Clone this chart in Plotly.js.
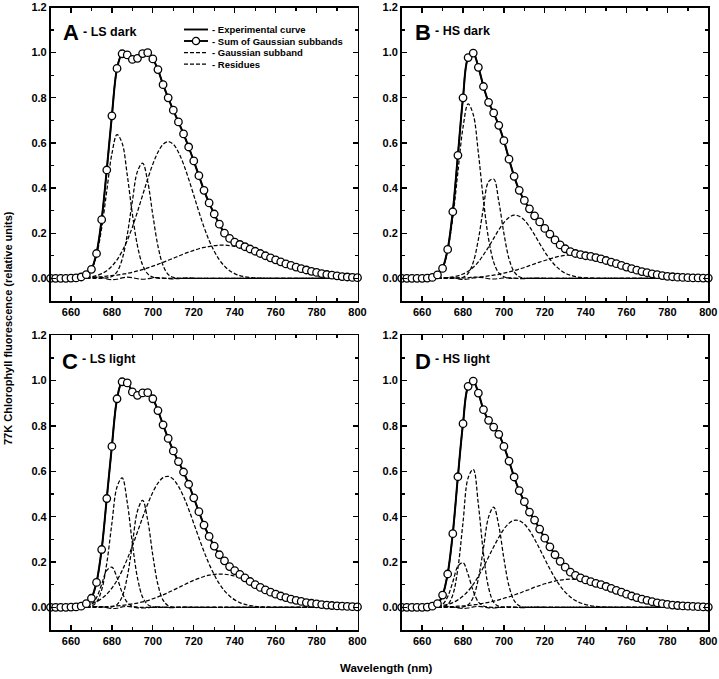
<!DOCTYPE html>
<html>
<head>
<meta charset="utf-8">
<script src="https://cdn.plot.ly/plotly-3.0.1.min.js"></script>
<style>html,body{margin:0;padding:0;background:#fff;}#chart{width:719px;height:679px;}</style>
</head>
<body>
<div id="chart"></div>
<script>
// ---------- data (wavelength grid, nm) ----------
const wl = [650,652.5,655,657.5,660,662.5,665,667.5,670,672.5,
675,677.5,680,682.5,685,687.5,690,692.5,695,697.5,
700,702.5,705,707.5,710,712.5,715,717.5,720,722.5,
725,727.5,730,732.5,735,737.5,740,742.5,745,747.5,
750,752.5,755,757.5,760,762.5,765,767.5,770,772.5,
775,777.5,780,782.5,785,787.5,790,792.5,795,797.5,
800];

const xTicks = [660,680,700,720,740,760,780,800];
const yTicks = [0,0.2,0.4,0.6,0.8,1.0,1.2];
const panelLetters = ["A","B","C","D"];
const panelNames = ["- LS dark","- HS dark","- LS light","- HS light"];
const legendNames = ["- Experimental curve","- Sum of Gaussian subbands","- Gaussian subband","- Residues"];

// ----- Panel A : LS dark -----
const sumA = [0,0,0,0,0.001,0.002,0.006,0.016,0.04,0.11,
0.26,0.48,0.72,0.93,0.995,0.99,0.97,0.975,0.996,1.0,
0.972,0.925,0.858,0.8,0.745,0.693,0.64,0.582,0.52,0.455,
0.39,0.334,0.285,0.24,0.2,0.177,0.16,0.15,0.14,0.13,
0.12,0.11,0.1,0.091,0.082,0.073,0.064,0.057,0.05,0.043,
0.037,0.031,0.026,0.021,0.017,0.014,0.011,0.008,0.006,0.004,
0.003];
const expA = [0,0,0,0,0.001,0.002,0.005,0.015,0.04,0.112,
0.262,0.482,0.722,0.928,0.994,0.99,0.968,0.976,0.995,0.999,
0.972,0.924,0.858,0.8,0.744,0.693,0.64,0.582,0.52,0.455,
0.39,0.334,0.285,0.24,0.2,0.177,0.16,0.15,0.14,0.13,
0.12,0.11,0.1,0.091,0.082,0.073,0.064,0.057,0.05,0.043,
0.037,0.031,0.026,0.021,0.017,0.014,0.011,0.008,0.006,0.004,
0.003];
const g1A = [0,0,0,0,0,0.001,0.003,0.012,0.039,0.104,
0.222,0.388,0.552,0.637,0.599,0.458,0.285,0.144,0.059,0.02,
0.005,0.001,0,0,0,0,0,0,0,0,
0,0,0,0,0,0,0,0,0,0,
0,0,0,0,0,0,0,0,0,0,
0,0,0,0,0,0,0,0,0,0,
0];
const g2A = [0,0,0,0,0,0,0,0,0,0,
0,0.002,0.008,0.029,0.084,0.193,0.342,0.474,0.51,0.429,
0.28,0.143,0.057,0.017,0.004,0.001,0,0,0,0,
0,0,0,0,0,0,0,0,0,0,
0,0,0,0,0,0,0,0,0,0,
0,0,0,0,0,0,0,0,0,0,
0];
const g3A = [0,0,0,0,0,0,0.002,0.004,0.007,0.012,
0.021,0.034,0.054,0.082,0.12,0.168,0.227,0.295,0.368,0.44,
0.506,0.559,0.594,0.606,0.594,0.559,0.506,0.44,0.368,0.295,
0.227,0.168,0.12,0.082,0.054,0.034,0.021,0.012,0.007,0.004,
0.002,0.001,0,0,0,0,0,0,0,0,
0,0,0,0,0,0,0,0,0,0,
0];
const g4A = [0,0,0.001,0.001,0.001,0.002,0.002,0.003,0.004,0.006,
0.007,0.01,0.012,0.014,0.018,0.022,0.027,0.033,0.039,0.046,
0.054,0.062,0.071,0.08,0.089,0.098,0.108,0.116,0.124,0.131,
0.137,0.141,0.145,0.147,0.147,0.145,0.142,0.138,0.132,0.126,
0.118,0.109,0.1,0.091,0.082,0.073,0.064,0.056,0.048,0.04,
0.035,0.029,0.023,0.019,0.015,0.012,0.01,0.008,0.006,0.005,
0.003];
const resA = [0,0,0,0,0,0,0.001,0.002,0.003,0.004,
0.004,-0.003,-0.006,-0.004,0.002,0.005,0.003,-0.002,-0.004,-0.002,
0.002,0.003,0.001,-0.001,-0.002,-0.001,0.001,0.002,0.001,0,
0,0,0,0,0,0,0,0,0,0,
0,0,0,0,0,0,0,0,0,0,
0,0,0,0,0,0,0,0,0,0,
0];

// ----- Panel B : HS dark -----
const sumB = [0,0,0,0,0,0.001,0.004,0.015,0.044,0.128,
0.295,0.545,0.8,0.978,0.998,0.935,0.85,0.78,0.733,0.678,
0.61,0.528,0.452,0.39,0.345,0.308,0.277,0.25,0.221,0.196,
0.17,0.148,0.131,0.118,0.11,0.105,0.1,0.097,0.092,0.086,
0.079,0.072,0.065,0.057,0.05,0.043,0.036,0.03,0.025,0.02,
0.016,0.012,0.009,0.007,0.005,0.004,0.003,0.002,0.002,0.001,
0.001];
const expB = [0,0,0,0,0,0.001,0.004,0.014,0.045,0.13,
0.297,0.547,0.801,0.977,0.997,0.936,0.851,0.78,0.732,0.677,
0.61,0.528,0.452,0.39,0.345,0.308,0.277,0.25,0.221,0.196,
0.17,0.148,0.131,0.118,0.11,0.105,0.1,0.097,0.092,0.086,
0.079,0.072,0.065,0.057,0.05,0.043,0.036,0.03,0.025,0.02,
0.016,0.012,0.009,0.007,0.005,0.004,0.003,0.002,0.002,0.001,
0.001];
const g1B = [0,0,0,0,0,0.001,0.004,0.015,0.047,0.126,
0.269,0.471,0.669,0.773,0.726,0.556,0.345,0.175,0.072,0.024,
0.007,0.001,0,0,0,0,0,0,0,0,
0,0,0,0,0,0,0,0,0,0,
0,0,0,0,0,0,0,0,0,0,
0,0,0,0,0,0,0,0,0,0,
0];
const g2B = [0,0,0,0,0,0,0,0,0,0,
0,0.001,0.005,0.022,0.071,0.172,0.313,0.428,0.44,0.341,
0.199,0.087,0.029,0.007,0.001,0,0,0,0,0,
0,0,0,0,0,0,0,0,0,0,
0,0,0,0,0,0,0,0,0,0,
0,0,0,0,0,0,0,0,0,0,
0];
const g3B = [0,0,0,0,0,0,0,0,0.002,0.003,
0.006,0.011,0.019,0.031,0.049,0.073,0.104,0.139,0.177,0.215,
0.247,0.27,0.28,0.275,0.258,0.229,0.193,0.154,0.117,0.085,
0.058,0.038,0.023,0.014,0.008,0.004,0.002,0.001,0,0,
0,0,0,0,0,0,0,0,0,0,
0,0,0,0,0,0,0,0,0,0,
0];
const g4B = [0,0,0,0,0,0,0,0,0.001,0.001,
0.001,0.002,0.002,0.003,0.005,0.006,0.008,0.011,0.014,0.018,
0.023,0.028,0.034,0.041,0.048,0.056,0.064,0.072,0.079,0.086,
0.093,0.098,0.102,0.104,0.105,0.104,0.102,0.098,0.093,0.086,
0.079,0.072,0.064,0.056,0.048,0.041,0.034,0.028,0.023,0.018,
0.014,0.011,0.008,0.006,0.005,0.003,0.002,0.002,0.001,0.001,
0.001];
const resB = [0,0,0,0,0,0,0.001,0.002,0.002,0.003,
0.003,-0.002,-0.005,-0.003,0.002,0.004,0.003,-0.002,-0.003,-0.001,
0.002,0.002,0.001,-0.001,-0.001,0,0.001,0.001,0,0,
0,0,0,0,0,0,0,0,0,0,
0,0,0,0,0,0,0,0,0,0,
0,0,0,0,0,0,0,0,0,0,
0];

// ----- Panel C : LS light -----
const sumC = [0,0,0,0,0.001,0.002,0.005,0.016,0.04,0.11,
0.255,0.48,0.71,0.92,0.995,0.99,0.95,0.935,0.946,0.947,
0.92,0.868,0.805,0.745,0.69,0.643,0.597,0.543,0.483,0.422,
0.363,0.313,0.27,0.232,0.205,0.18,0.162,0.145,0.13,0.114,
0.1,0.088,0.077,0.067,0.058,0.05,0.043,0.036,0.031,0.026,
0.021,0.018,0.015,0.012,0.01,0.008,0.006,0.005,0.004,0.003,
0.002];
const expC = [0,0,0,0,0.001,0.002,0.005,0.015,0.041,0.112,
0.257,0.482,0.712,0.918,0.994,0.99,0.951,0.934,0.945,0.946,
0.92,0.868,0.805,0.745,0.69,0.643,0.597,0.543,0.483,0.422,
0.363,0.313,0.27,0.232,0.205,0.18,0.162,0.145,0.13,0.114,
0.1,0.088,0.077,0.067,0.058,0.05,0.043,0.036,0.031,0.026,
0.021,0.018,0.015,0.012,0.01,0.008,0.006,0.005,0.004,0.003,
0.002];
const g0C = [0,0,0,0,0,0,0,0.002,0.012,0.043,
0.101,0.163,0.177,0.131,0.065,0.022,0.005,0.001,0,0,
0,0,0,0,0,0,0,0,0,0,
0,0,0,0,0,0,0,0,0,0,
0,0,0,0,0,0,0,0,0,0,
0,0,0,0,0,0,0,0,0,0,
0];
const g1C = [0,0,0,0,0,0,0,0.001,0.005,0.023,
0.077,0.195,0.371,0.531,0.571,0.463,0.282,0.13,0.045,0.012,
0.002,0,0,0,0,0,0,0,0,0,
0,0,0,0,0,0,0,0,0,0,
0,0,0,0,0,0,0,0,0,0,
0,0,0,0,0,0,0,0,0,0,
0];
const g2C = [0,0,0,0,0,0,0,0,0,0,
0,0,0.002,0.012,0.047,0.134,0.279,0.425,0.472,0.384,
0.229,0.1,0.032,0.007,0.001,0,0,0,0,0,
0,0,0,0,0,0,0,0,0,0,
0,0,0,0,0,0,0,0,0,0,
0,0,0,0,0,0,0,0,0,0,
0];
const g3C = [0,0,0,0.001,0.002,0.003,0.006,0.01,0.016,0.025,
0.039,0.058,0.085,0.119,0.162,0.213,0.27,0.333,0.396,0.456,
0.508,0.548,0.572,0.578,0.565,0.534,0.489,0.433,0.37,0.307,
0.246,0.191,0.144,0.104,0.073,0.05,0.033,0.021,0.013,0.008,
0.004,0.002,0.001,0,0,0,0,0,0,0,
0,0,0,0,0,0,0,0,0,0,
0];
const g4C = [0,0,0,0,0,0,0.001,0.001,0.001,0.002,
0.002,0.003,0.004,0.006,0.008,0.011,0.015,0.019,0.024,0.03,
0.038,0.046,0.055,0.065,0.076,0.087,0.098,0.109,0.119,0.128,
0.136,0.142,0.145,0.147,0.146,0.143,0.138,0.131,0.123,0.113,
0.102,0.091,0.08,0.069,0.059,0.05,0.041,0.033,0.027,0.021,
0.016,0.012,0.009,0.007,0.005,0.004,0.003,0.002,0.001,0.001,
0.001];
const resC = [0,0,0,0,0,0,0.001,0.002,0.003,0.003,
0.003,-0.002,-0.005,-0.004,0.002,0.004,0.002,-0.002,-0.003,-0.002,
0.001,0.002,0.001,-0.001,-0.001,0,0.001,0.001,0,0,
0,0,0,0,0,0,0,0,0,0,
0,0,0,0,0,0,0,0,0,0,
0,0,0,0,0,0,0,0,0,0,
0];

// ----- Panel D : HS light -----
const sumD = [0,0,0,0,0,0.001,0.005,0.016,0.054,0.147,
0.325,0.576,0.81,0.975,0.998,0.945,0.872,0.825,0.795,0.763,
0.71,0.645,0.575,0.515,0.466,0.42,0.385,0.345,0.305,0.267,
0.232,0.203,0.177,0.155,0.141,0.13,0.121,0.113,0.106,0.1,
0.092,0.084,0.075,0.067,0.058,0.05,0.043,0.036,0.031,0.025,
0.02,0.016,0.013,0.01,0.008,0.006,0.005,0.004,0.003,0.002,
0.001];
const expD = [0,0,0,0,0,0.001,0.004,0.015,0.053,0.149,
0.327,0.578,0.811,0.974,0.997,0.946,0.872,0.824,0.795,0.763,
0.71,0.645,0.575,0.515,0.466,0.42,0.385,0.345,0.305,0.267,
0.232,0.203,0.177,0.155,0.141,0.13,0.121,0.113,0.106,0.1,
0.092,0.084,0.075,0.067,0.058,0.05,0.043,0.036,0.031,0.025,
0.02,0.016,0.013,0.01,0.008,0.006,0.005,0.004,0.003,0.002,
0.001];
const g0D = [0,0,0,0,0,0,0,0.003,0.013,0.047,
0.112,0.181,0.197,0.145,0.072,0.024,0.006,0.001,0,0,
0,0,0,0,0,0,0,0,0,0,
0,0,0,0,0,0,0,0,0,0,
0,0,0,0,0,0,0,0,0,0,
0,0,0,0,0,0,0,0,0,0,
0];
const g1D = [0,0,0,0,0,0,0,0,0.002,0.012,
0.055,0.172,0.375,0.571,0.609,0.454,0.237,0.087,0.022,0.004,
0.001,0,0,0,0,0,0,0,0,0,
0,0,0,0,0,0,0,0,0,0,
0,0,0,0,0,0,0,0,0,0,
0,0,0,0,0,0,0,0,0,0,
0];
const g2D = [0,0,0,0,0,0,0,0,0,0,
0,0,0.002,0.011,0.044,0.126,0.261,0.398,0.442,0.36,
0.215,0.094,0.03,0.007,0.001,0,0,0,0,0,
0,0,0,0,0,0,0,0,0,0,
0,0,0,0,0,0,0,0,0,0,
0,0,0,0,0,0,0,0,0,0,
0];
const g3D = [0,0,0,0,0,0,0.002,0.004,0.008,0.013,
0.021,0.033,0.05,0.072,0.101,0.137,0.177,0.222,0.267,0.309,
0.345,0.371,0.384,0.382,0.367,0.339,0.301,0.258,0.213,0.169,
0.129,0.095,0.067,0.046,0.03,0.019,0.012,0.007,0.004,0.002,
0.001,0,0,0,0,0,0,0,0,0,
0,0,0,0,0,0,0,0,0,0,
0];
const g4D = [0,0,0,0,0.001,0.001,0.001,0.001,0.002,0.003,
0.003,0.005,0.006,0.008,0.011,0.014,0.018,0.022,0.027,0.033,
0.04,0.046,0.054,0.062,0.071,0.079,0.089,0.096,0.104,0.11,
0.116,0.12,0.123,0.124,0.123,0.121,0.118,0.113,0.106,0.1,
0.091,0.083,0.074,0.066,0.057,0.05,0.042,0.035,0.03,0.024,
0.019,0.015,0.012,0.009,0.008,0.005,0.004,0.003,0.003,0.002,
0.001];
const resD = [0,0,0,0,0,0,0.001,0.002,0.003,0.003,
0.002,-0.003,-0.005,-0.003,0.002,0.004,0.002,-0.002,-0.003,-0.001,
0.001,0.002,0.001,-0.001,-0.001,0,0.001,0.001,0,0,
0,0,0,0,0,0,0,0,0,0,
0,0,0,0,0,0,0,0,0,0,
0,0,0,0,0,0,0,0,0,0,
0];

// ---------- build ----------
const W = 719, H = 679;
const px = v => v / W;
const py = v => 1 - v / H;
const FONT = "Liberation Sans, Arial, Helvetica, sans-serif";
const INK = "#000";
const BAND_DASH = "4px,2px";

const panels = [
  {ax:"", exp:expA, sum:sumA, bands:[g1A,g2A,g3A,g4A], res:resA},
  {ax:"2", exp:expB, sum:sumB, bands:[g1B,g2B,g3B,g4B], res:resB},
  {ax:"3", exp:expC, sum:sumC, bands:[g0C,g1C,g2C,g3C,g4C], res:resC},
  {ax:"4", exp:expD, sum:sumD, bands:[g0D,g1D,g2D,g3D,g4D], res:resD}
];

const traces = [];
panels.forEach(p => {
  const xa = "x" + p.ax, ya = "y" + p.ax;
  traces.push({x: wl, y: p.res, xaxis: xa, yaxis: ya, type: "scatter", mode: "lines",
    name: legendNames[3], showlegend: false,
    line: {color: INK, width: 1.2, dash: "5px,2px", shape: "spline"}});
  p.bands.forEach(b => {
    traces.push({x: wl, y: b, xaxis: xa, yaxis: ya, type: "scatter", mode: "lines",
      name: legendNames[2], showlegend: false,
      line: {color: INK, width: 1.25, dash: BAND_DASH, shape: "spline"}});
  });
  traces.push({x: wl, y: p.exp, xaxis: xa, yaxis: ya, type: "scatter", mode: "lines",
    name: legendNames[0], showlegend: false,
    line: {color: INK, width: 2, shape: "spline"}});
  traces.push({x: wl, y: p.sum, xaxis: xa, yaxis: ya, type: "scatter", mode: "lines+markers",
    name: legendNames[1], showlegend: false, cliponaxis: false,
    line: {color: INK, width: 1.5, shape: "spline"},
    marker: {symbol: "circle", size: 7.5, color: "#fff", line: {color: INK, width: 1.3}}});
});

const colL = [px(50.5), px(357.5)];
const colR = [px(401.7), px(708.3)];
const rowT = [py(300.9), py(7.5)];
const rowB = [py(630), py(335.3)];

function xAxis(domain, anchor) {
  return {domain: domain, anchor: anchor, range: [650, 800], type: "linear",
    tickvals: xTicks, ticks: "inside", ticklen: 5, tickwidth: 1.3, tickcolor: INK,
    showline: true, linecolor: INK, linewidth: 1.6, mirror: "allticks",
    showgrid: false, zeroline: false,
    tickfont: {family: FONT, size: 11, color: INK, weight: "bold"},
    minor: {tickvals: [650,670,690,710,730,750,770,790], ticks: "inside", ticklen: 3, tickwidth: 1.3, tickcolor: INK, showgrid: false}};
}
function yAxis(domain, anchor) {
  return {domain: domain, anchor: anchor, range: [-0.1, 1.2], type: "linear",
    tickvals: yTicks, tickformat: ".1f", ticks: "inside", ticklen: 5, tickwidth: 1.3, tickcolor: INK,
    showline: true, linecolor: INK, linewidth: 1.6, mirror: "allticks",
    showgrid: false, zeroline: false,
    tickfont: {family: FONT, size: 11, color: INK, weight: "bold"},
    minor: {tickvals: [-0.1,0.1,0.3,0.5,0.7,0.9,1.1], ticks: "inside", ticklen: 3, tickwidth: 1.3, tickcolor: INK, showgrid: false}};
}

const annotations = [];
const letterPos = [[70.5, 32, 81, 31.5], [423.3, 32, 432.5, 31], [70, 361, 80, 358.5], [423.3, 361, 432.5, 358.5]];
letterPos.forEach((pp, i) => {
  annotations.push({xref: "paper", yref: "paper", x: px(pp[0]), y: py(pp[1]), xanchor: "center", yanchor: "middle",
    text: panelLetters[i], showarrow: false, font: {family: FONT, size: 22, color: INK, weight: "bold"}});
  annotations.push({xref: "paper", yref: "paper", x: px(pp[2]), y: py(pp[3]), xanchor: "left", yanchor: "middle",
    text: panelNames[i], showarrow: false, font: {family: FONT, size: 12.5, color: INK, weight: "bold"}});
});
// axis titles
annotations.push({xref: "paper", yref: "paper", x: px(8), y: py(328), xanchor: "center", yanchor: "middle",
  textangle: -90, text: "77K Chlorophyll fluorescence (relative units)", showarrow: false,
  font: {family: FONT, size: 11, color: INK, weight: "bold"}});
annotations.push({xref: "paper", yref: "paper", x: px(386), y: py(668), xanchor: "center", yanchor: "middle",
  text: "Wavelength (nm)", showarrow: false, font: {family: FONT, size: 11.5, color: INK, weight: "bold"}});

// legend (drawn inside panel A)
const legRows = [29.5, 41, 52.5, 64];
const shapes = [];
legRows.forEach((ry, i) => {
  const ln = {color: INK, width: i < 2 ? 1.9 : 1.25};
  if (i >= 2) ln.dash = BAND_DASH;
  shapes.push({type: "line", xref: "paper", yref: "paper", x0: px(184), x1: px(208), y0: py(ry), y1: py(ry), line: ln});
  annotations.push({xref: "paper", yref: "paper", x: px(209.5), y: py(ry), xanchor: "left", yanchor: "middle",
    text: legendNames[i], showarrow: false, font: {family: FONT, size: 9.5, color: INK, weight: "bold"}});
});
shapes.push({type: "circle", xref: "paper", yref: "paper", x0: px(192.4), x1: px(199.6), y0: py(44.6), y1: py(37.4),
  fillcolor: "#fff", line: {color: INK, width: 1.3}});

const layout = {
  width: W, height: H, margin: {l: 0, r: 0, t: 0, b: 0},
  paper_bgcolor: "#fff", plot_bgcolor: "#fff", showlegend: false,
  font: {family: FONT, color: INK},
  xaxis: xAxis(colL, "y"), yaxis: yAxis(rowT, "x"),
  xaxis2: xAxis(colR, "y2"), yaxis2: yAxis(rowT, "x2"),
  xaxis3: xAxis(colL, "y3"), yaxis3: yAxis(rowB, "x3"),
  xaxis4: xAxis(colR, "y4"), yaxis4: yAxis(rowB, "x4"),
  annotations: annotations, shapes: shapes
};

Plotly.newPlot("chart", traces, layout, {displayModeBar: false, staticPlot: true});
</script>
</body>
</html>
